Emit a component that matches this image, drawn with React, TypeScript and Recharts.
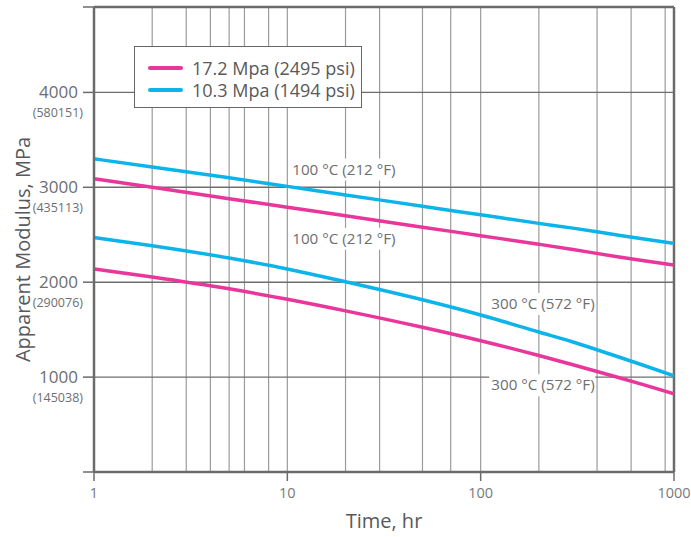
import React from 'react';
import {
  LineChart, Line, XAxis, YAxis, CartesianGrid, ReferenceLine, ReferenceDot, Legend, Label,
} from 'recharts';

// Time (hr) and apparent modulus (MPa)
const times = [1, 2, 5, 10, 20, 50, 100, 200, 300, 500, 700, 1000];
const pink100 = [3090, 3000, 2880, 2790, 2700, 2580, 2490, 2400, 2345, 2270, 2225, 2180];
const blue100 = [3300, 3215, 3100, 3010, 2920, 2800, 2710, 2620, 2570, 2500, 2455, 2410];
const pink300 = [2140, 2055, 1930, 1820, 1698, 1525, 1383, 1227, 1130, 1004, 918, 825];
const blue300 = [2470, 2385, 2255, 2140, 2005, 1815, 1655, 1475, 1370, 1222, 1122, 1012];

const xTicks = [1, 10, 100, 1000];
const gridTimes = [2, 3, 4, 5, 6, 7, 8, 9, 10, 20, 30, 40, 50, 60, 70, 80, 90, 100, 200, 300, 400, 500, 600, 700, 800, 900];
const yTicks = [0, 1000, 2000, 3000, 4000, 4900];
const yLabels = ['', '1000', '2000', '3000', '4000', ''];
const psiLabels = ['', '(145038)', '(290076)', '(435113)', '(580151)', ''];

const legendItems = [
  { name: '17.2 Mpa (2495 psi)', color: '#e8369a' },
  { name: '10.3 Mpa (1494 psi)', color: '#0db4ea' },
];

const notes = [
  { t: 10.6, v: 3187, text: '100 °C (212 °F)' },
  { t: 10.6, v: 2458, text: '100 °C (212 °F)' },
  { t: 113.5, v: 1771, text: '300 °C (572 °F)' },
  { t: 113.5, v: 914, text: '300 °C (572 °F)' },
];

const data = times.map((t, i) => ({
  t,
  pink100: pink100[i],
  blue100: blue100[i],
  pink300: pink300[i],
  blue300: blue300[i],
}));

const FONT = '"Open Sans", "Noto Sans", sans-serif';
const FRAME = '#6b6b6b';

const YTick = ({ x, y, payload }: any) => {
  const i = yTicks.indexOf(payload.value);
  return (
    <g>
      <text x={x - 3} y={y + 6} textAnchor="end" fontSize={17} fill="#6d6e71" fontFamily={FONT}>
        {yLabels[i]}
      </text>
      <text x={x + 2} y={y + 25} textAnchor="end" fontSize={12.5} fill="#6d6e71" fontFamily={FONT}>
        {psiLabels[i]}
      </text>
    </g>
  );
};

const XTick = ({ x, y, payload }: any) => (
  <text x={x} y={y + 15} textAnchor="middle" fontSize={14.5} fill="#7a7a7a" fontFamily={FONT}>
    {payload.value}
  </text>
);

const NoteLabel = (text: string) => (props: any) => {
  const { viewBox } = props;
  const x = viewBox.x;
  const y = viewBox.y;
  return (
    <g>
      <rect x={x - 2} y={y - 11} width={106} height={22} fill="#fff" />
      <text x={x} y={y + 5} fontSize={15.2} fill="#6d6e71" fontFamily={FONT}>
        {text}
      </text>
    </g>
  );
};

const LegendBox = () => (
  <div
    style={{
      width: 228,
      height: 62,
      boxSizing: 'border-box',
      border: '1px solid #666',
      background: '#fff',
      padding: '10px 0 0 13px',
      fontFamily: FONT,
    }}
  >
    {legendItems.map((item) => (
      <div key={item.name} style={{ display: 'flex', alignItems: 'center', height: 22 }}>
        <span
          style={{
            display: 'inline-block',
            width: 35,
            height: 4,
            borderRadius: 2,
            background: item.color,
            marginRight: 9,
          }}
        />
        <span style={{ fontSize: 18, color: '#58595b', whiteSpace: 'nowrap' }}>{item.name}</span>
      </div>
    ))}
  </div>
);

export default function App() {
  return (
    <div style={{ position: 'absolute', left: 0, top: 0, background: '#fff' }}>
      <LineChart
        width={691}
        height={537}
        data={data}
        margin={{ top: 7, right: 17, bottom: 5, left: 0 }}
      >
        <CartesianGrid horizontal={false} verticalValues={gridTimes} stroke="#9b9b9b" strokeWidth={1.2} />
        <CartesianGrid vertical={false} horizontalValues={[1000, 2000, 3000, 4000]} stroke="#6e6e6e" strokeWidth={1.4} />
        <XAxis
          dataKey="t"
          type="number"
          scale="log"
          domain={[1, 1000]}
          ticks={xTicks}
          allowDataOverflow
          height={60}
          tick={<XTick />}
          tickSize={9}
          axisLine={{ stroke: FRAME, strokeWidth: 2.5 }}
          tickLine={{ stroke: FRAME, strokeWidth: 1.5 }}
        >
          <Label
            content={(p: any) => (
              <text
                x={p.viewBox.x + p.viewBox.width / 2}
                y={p.viewBox.y + 56}
                textAnchor="middle"
                fontSize={20}
                fill="#58595b"
                fontFamily={FONT}
              >
                Time, hr
              </text>
            )}
          />
        </XAxis>
        <YAxis
          type="number"
          domain={[0, 4900]}
          ticks={yTicks}
          interval={0}
          width={94}
          tick={<YTick />}
          tickSize={11}
          axisLine={{ stroke: FRAME, strokeWidth: 2.5 }}
          tickLine={{ stroke: FRAME, strokeWidth: 1.5 }}
        >
          <Label
            content={(p: any) => {
              const cx = 22;
              const cy = p.viewBox.y + p.viewBox.height / 2 + 10;
              return (
                <text
                  x={cx}
                  y={cy}
                  transform={`rotate(-90 ${cx} ${cy})`}
                  textAnchor="middle"
                  dominantBaseline="central"
                  fontSize={20}
                  fill="#58595b"
                  fontFamily={FONT}
                >
                  Apparent Modulus, MPa
                </text>
              );
            }}
          />
        </YAxis>
        <ReferenceLine y={4900} stroke={FRAME} strokeWidth={2.5} />
        <ReferenceLine x={1000} stroke={FRAME} strokeWidth={2.5} />
        {notes.map((n, i) => (
          <ReferenceDot
            key={i}
            x={n.t}
            y={n.v}
            r={0}
            stroke="none"
            fill="none"
            label={NoteLabel(n.text)}
          />
        ))}
        <Legend
          layout="vertical"
          align="center"
          verticalAlign="middle"
          wrapperStyle={{ left: 134, top: 46, width: 228 }}
          content={<LegendBox />}
        />
        <Line dataKey="blue100" type="monotone" stroke="#0db4ea" strokeWidth={3.5} dot={false} isAnimationActive={false} />
        <Line dataKey="pink100" type="monotone" stroke="#e8369a" strokeWidth={3.5} dot={false} isAnimationActive={false} />
        <Line dataKey="blue300" type="monotone" stroke="#0db4ea" strokeWidth={3.5} dot={false} isAnimationActive={false} />
        <Line dataKey="pink300" type="monotone" stroke="#e8369a" strokeWidth={3.5} dot={false} isAnimationActive={false} />
      </LineChart>
    </div>
  );
}
